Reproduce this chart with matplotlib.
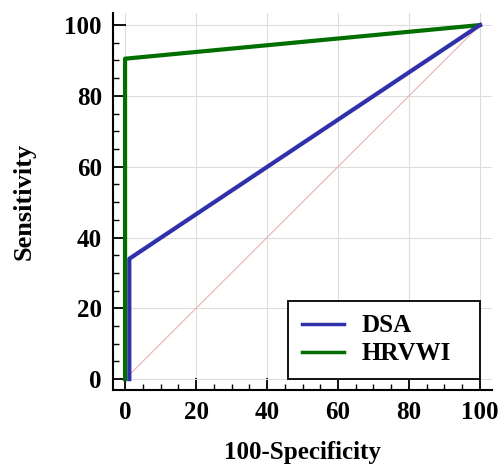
import matplotlib
matplotlib.use("Agg")
import matplotlib.pyplot as plt
from matplotlib.ticker import MultipleLocator

# ---- Data ---- #
dsa_fpr = [1.2, 1.2, 100]
dsa_tpr = [0, 34, 100]
hrvwi_fpr = [0, 0, 100]
hrvwi_tpr = [0, 90.5, 100]
ref_line = [0, 100]
labels = ["DSA", "HRVWI"]

plt.rcParams["font.family"] = "Liberation Serif"
plt.rcParams["font.weight"] = "bold"

fig = plt.figure(figsize=(5, 4.65), dpi=100)
ax = fig.add_axes([0.226, 0.161, 0.758, 0.811])

ax.plot(ref_line, ref_line, color="#e8a8a8", lw=0.7, zorder=1)
ax.plot(dsa_fpr, dsa_tpr, color="#3030a8", lw=3, label=labels[0], zorder=3)
ax.plot(hrvwi_fpr, hrvwi_tpr, color="#006f00", lw=3, label=labels[1], zorder=2)

ax.set_xlim(-3.4, 103.4)
ax.set_ylim(-3.1, 103.4)
ax.xaxis.set_major_locator(MultipleLocator(20))
ax.yaxis.set_major_locator(MultipleLocator(20))
ax.xaxis.set_minor_locator(MultipleLocator(5))
ax.yaxis.set_minor_locator(MultipleLocator(5))
ax.grid(True, which="major", color="#dddddd", lw=0.8)
ax.set_axisbelow(True)

for s in ["top", "right"]:
    ax.spines[s].set_visible(False)
for s in ["left", "bottom"]:
    ax.spines[s].set_linewidth(1.5)
ax.tick_params(which="both", direction="in")
ax.tick_params(which="major", length=9, width=1.3, labelsize=18, pad=8)
ax.tick_params(which="minor", length=4.5, width=1.0)

ax.set_xlabel("100-Specificity", fontsize=18, fontweight="bold", labelpad=12)
ax.set_ylabel("Sensitivity", fontsize=19, fontweight="bold", labelpad=21)

# legend box spans from ~46 to 100 on the x axis, sitting on y=0
leg = ax.legend(loc="lower left", bbox_to_anchor=(45.9, 0, 54.1, 0), bbox_transform=ax.transData,
                mode="expand", fontsize=18, fancybox=False, edgecolor="black", framealpha=1,
                handlelength=1.7, handletextpad=0.7, borderpad=0.55, labelspacing=0.2,
                borderaxespad=0)
leg.get_frame().set_linewidth(1.3)
for line in leg.get_lines():
    line.set_linewidth(2.5)

fig.savefig("out.png", dpi=100)
